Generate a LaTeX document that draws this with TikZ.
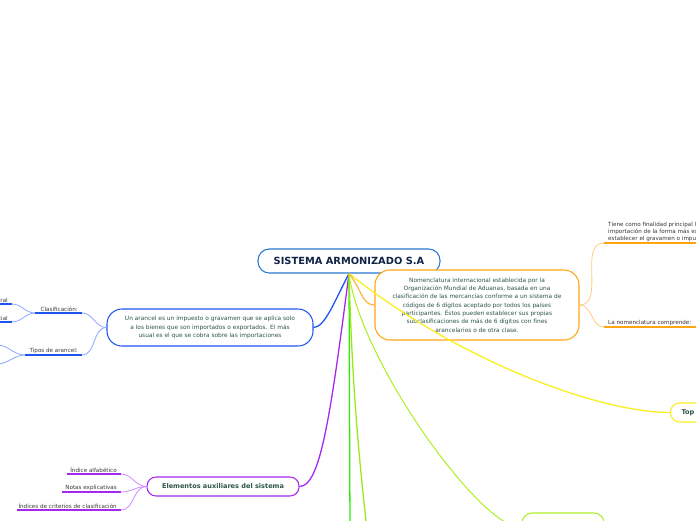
\documentclass[tikz,border=0pt]{standalone}
\usepackage{fontspec}
\setmainfont{DejaVu Sans}
\usepackage{xcolor}
\usepackage{tikz}
\usetikzlibrary{positioning}
\definecolor{rootblue}{RGB}{40,120,210}
\definecolor{rootink}{RGB}{16,36,72}
\definecolor{nodeink}{RGB}{44,84,72}
\definecolor{leafink}{RGB}{55,55,55}
\definecolor{brblue}{RGB}{30,85,240}
\definecolor{brbluelt}{RGB}{140,170,255}
\definecolor{brorange}{RGB}{255,165,20}
\definecolor{brorangelt}{RGB}{255,205,130}
\definecolor{brpurple}{RGB}{165,40,240}
\definecolor{brpurplelt}{RGB}{205,140,255}
\definecolor{brgreen}{RGB}{50,235,10}
\definecolor{brlime}{RGB}{150,235,20}
\definecolor{brlimelt}{RGB}{175,240,40}
\definecolor{bryellow}{RGB}{250,238,30}
\newcommand{\fsz}[2]{\fontsize{#1}{#2}\selectfont}
\newcommand{\lleaf}[6]{%
  \coordinate (#1-l) at (#2,#4); \coordinate (#1-r) at (#3,#4);
  \draw[#5,line width=1.5pt] (#1-l) -- (#1-r);
  \node[leaf,anchor=south east] (#1) at ({#3-4},{#4-1.5}) {#6};}
\newcommand{\rleaf}[6]{%
  \coordinate (#1-l) at (#2,#4); \coordinate (#1-r) at (#3,#4);
  \draw[#5,line width=1.5pt] (#1-l) -- (#1-r);
  \node[leaf,anchor=south west,align=left] (#1) at ({#2+4},{#4-1.5}) {#6};}

\begin{document}
\begin{tikzpicture}[x=0.03cm,y=-0.03cm,
  topic/.style={draw,fill=white,align=center,text=nodeink,line width=0.9pt},
  leaf/.style={font=\fsz{4.8}{6},text=leafink,inner sep=0pt},
  branch/.style={line width=1.1pt},
  twig/.style={line width=0.7pt}]
  \useasboundingbox (0,0) rectangle (696,520);

  \node[topic,draw=rootblue,text=rootink,rounded corners=0.34cm,
    minimum width=5.46cm,minimum height=0.72cm,font=\fsz{8.4}{10}\bfseries]
    (root) at (349,261) {SISTEMA ARMONIZADO S.A};

  \node[topic,draw=brblue,rounded corners=0.45cm,minimum width=6.18cm,
    minimum height=1.11cm,font=\fsz{5}{7.2}] (arancel) at (210,327.5)
    {Un arancel es un impuesto o gravamen que se aplica solo\\
     a los bienes que son importados o exportados. El más\\
     usual es el que se cobra sobre las importaciones};

  \node[topic,draw=brorange,rounded corners=0.45cm,minimum width=6.12cm,
    minimum height=2.1cm,font=\fsz{5}{7.15}] (nomen) at (477,305)
    {Nomenclatura internacional establecida por la\\
     Organización Mundial de Aduanas, basada en una\\
     clasificación de las mercancías conforme a un sistema de\\
     códigos de 6 dígitos aceptado por todos los países\\
     participantes. Éstos pueden establecer sus propias\\
     subclasificaciones de más de 6 dígitos con fines\\
     arancelarios o de otra clase.};

  \node[topic,draw=brpurple,rounded corners=0.27cm,minimum width=4.56cm,
    minimum height=0.57cm,font=\fsz{5.6}{7}\bfseries] (auxil) at (223,486.5)
    {Elementos auxiliares del sistema};

  \node[topic,draw=bryellow,rounded corners=0.27cm,anchor=west,text width=2cm,
    minimum height=0.57cm,inner xsep=0.33cm,align=left,font=\fsz{5.6}{7}\bfseries]
    (topicos) at (670,412.5) {Top};

  \node[topic,draw=brlimelt,rounded corners=0.3cm,minimum width=2.46cm,
    minimum height=0.9cm] (lowtopic) at (563,528) {};

  \coordinate (greenend) at (350,530);
  \coordinate (limeend) at (367,530);

  \draw[branch,brblue] (root.south) .. controls (335,300) and (325,327.5) .. (arancel.east);
  \draw[branch,brpurple] (root.south) .. controls (330,420) and (320,486.5) .. (auxil.east);
  \draw[branch,brgreen] (root.south) -- (greenend);
  \draw[branch,brlime] (root.south) .. controls (352,380) and (358,450) .. (limeend);
  \draw[twig,brlimelt,line width=0.9pt] (root.south) .. controls (360,360) and (480,528) .. (lowtopic.west);
  \draw[branch,bryellow] (root.south) .. controls (460,362) and (600,412.5) .. (topicos.west);
  \draw[branch,brorange!80] (root.south) .. controls (362,290) and (362,305) .. (nomen.west);

  \lleaf{clasif}{35}{82}{313}{brblue}{Clasificación:}
  \lleaf{tipos}{25}{82}{355}{brblue}{Tipos de arancel:}
  \lleaf{clasa}{-5}{12}{304}{brblue}{ral}
  \lleaf{clasb}{-5}{12}{322}{brblue}{cial}
  \coordinate (tiposa) at (-3,345);
  \coordinate (tiposb) at (-3,364);
  \foreach \k in {clasif,tipos}
    \draw[twig,brbluelt] (arancel.west) to[out=180,in=0] (\k-r);
  \foreach \k in {clasa,clasb}
    \draw[twig,brbluelt] (clasif-l) to[out=180,in=0] (\k-r);
  \foreach \k in {tiposa,tiposb}
    \draw[twig,brbluelt] (tipos-l) to[out=180,in=0] (\k);

  \lleaf{indalf}{67}{121}{474}{brpurple}{Índice alfabético}
  \lleaf{notas}{62}{121}{492}{brpurple}{Notas explicativas}
  \lleaf{indcrit}{17}{121}{510}{brpurple}{Índices de criterios de clasificación}
  \foreach \k in {indalf,notas,indcrit}
    \draw[twig,brpurplelt] (auxil.west) to[out=180,in=0] (\k-r);

  \rleaf{finalidad}{604}{720}{243}{brorange}{Tiene como finalidad principal la\\
    importación de la forma más ex\\establecer el gravamen o impue}
  \rleaf{comprende}{604}{720}{327}{brorange}{La nomenclatura comprende:}
  \foreach \k in {finalidad,comprende}
    \draw[twig,brorangelt] (nomen.east) to[out=0,in=180] (\k-l);
\end{tikzpicture}
\end{document}
